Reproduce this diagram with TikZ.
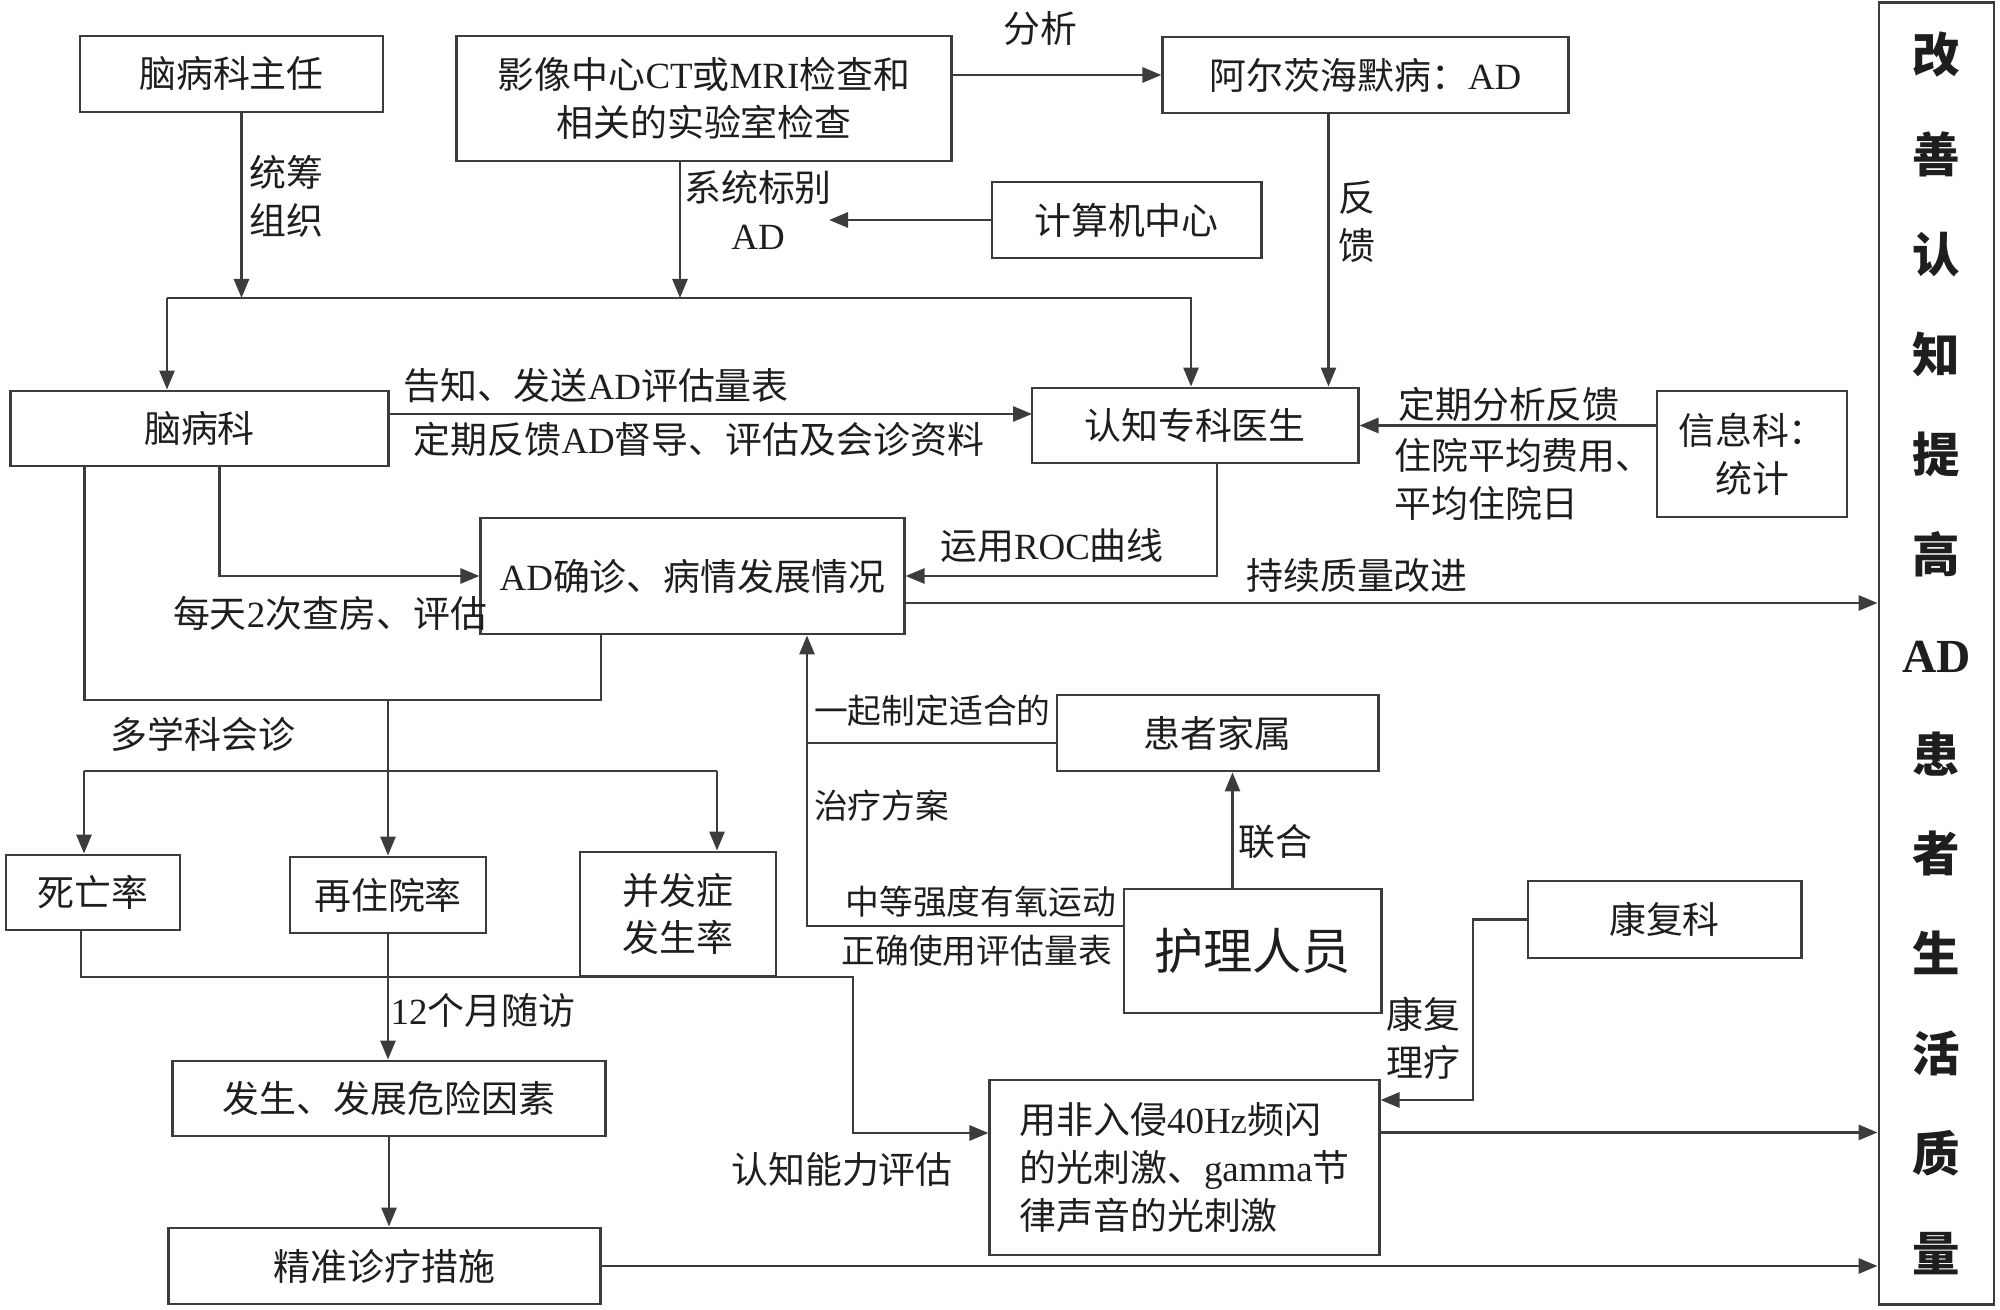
\documentclass[tikz,border=0pt]{standalone}
\usepackage{fontspec}
\setmainfont{Liberation Serif}
\newfontfamily\cjk{Noto Sans CJK SC}
\usepackage{tikz}
\usetikzlibrary{positioning,arrows.meta,calc}
\definecolor{lineGray}{RGB}{60,60,60}
\definecolor{textGray}{RGB}{30,30,30}
\newcommand{\en}[1]{{\rmfamily #1}}

\begin{document}
\begin{tikzpicture}[x=0.01cm, y=-0.01cm, >={Triangle[length=0.19cm,width=0.15cm]},
  box/.style={draw=lineGray, line width=0.8pt, inner sep=1pt, align=center, text=textGray, font=\cjk\fontsize{10.5}{13.6}\selectfont},
  lbl/.style={inner sep=1pt, align=center, text=textGray, font=\cjk\fontsize{10.5}{13.6}\selectfont},
  link/.style={draw=lineGray, line width=0.8pt}]

\useasboundingbox (0,0) rectangle (2000,1310);

% Top row
\node[box, minimum width=3.03cm, minimum height=0.76cm] (director) at (231.5,74) {脑病科主任};
\node[box, minimum width=4.94cm, minimum height=1.25cm] (imaging) at (704,98.5) {影像中心\en{CT}或\en{MRI}检查和\\相关的实验室检查};
\node[box, minimum width=4.05cm, minimum height=0.76cm] (alz) at (1365.5,75) {阿尔茨海默病：\en{AD}};
\node[box, minimum width=2.69cm, minimum height=0.76cm] (computer) at (1126.5,220) {计算机中心};

% Departments and doctors
\node[box, minimum width=3.77cm, minimum height=0.75cm] (neuro) at (199.5,428.5) {脑病科};
\node[box, minimum width=3.26cm, minimum height=0.75cm] (cogdoc) at (1195,425.5) {认知专科医生};
\node[box, minimum width=1.90cm, minimum height=1.26cm] (info) at (1752,454) {信息科：\\统计};
\node[box, minimum width=4.23cm, minimum height=1.16cm] (diag) at (692.5,576) {\en{AD}确诊、病情发展情况};

% Outcomes
\node[box, minimum width=1.74cm, minimum height=0.75cm] (dead) at (93,892.5) {死亡率};
\node[box, minimum width=1.96cm, minimum height=0.76cm] (readmit) at (388,895) {再住院率};
\node[box, minimum width=1.96cm, minimum height=1.24cm] (compl) at (678,914) {并发症\\发生率};
\node[box, minimum width=4.32cm, minimum height=0.75cm] (risk) at (389,1098.5) {发生、发展危险因素};
\node[box, minimum width=4.31cm, minimum height=0.76cm] (precise) at (384.5,1266) {精准诊疗措施};

% Care team
\node[box, minimum width=3.21cm, minimum height=0.76cm] (family) at (1217.5,733) {患者家属};
\node[box, minimum width=2.57cm, minimum height=1.24cm, font=\cjk\fontsize{14}{17}\selectfont] (nurse) at (1252.5,951) {护理人员};
\node[box, minimum width=2.73cm, minimum height=0.77cm] (rehab) at (1664.5,919.5) {康复科};
\node[box, minimum width=3.89cm, minimum height=1.75cm, align=left] (light) at (1184.5,1167.5) {用非入侵\en{40Hz}频闪\\的光刺激、\en{gamma}节\\律声音的光刺激};

% Goal column
\node[box, minimum width=1.15cm, minimum height=13.01cm, font=\cjk\bfseries\fontsize{13.5}{28.4}\selectfont] (goal) at (1936.5,653.5) {改\\善\\认\\知\\提\\高\\\en{AD}\\患\\者\\生\\活\\质\\量};

% Labels
\node[lbl] (tAnalyse) at (1040,29) {分析};
\node[lbl, anchor=west] (tOrganise) at (245,196) {统筹\\组织};
\node[lbl] (tIdentify) at (758,210) {系统标别\\\en{AD}};
\node[lbl] (tInform) at (596,386) {告知、发送\en{AD}评估量表};
\node[lbl] (tReport) at (699,439) {定期反馈\en{AD}督导、评估及会诊资料};
\node[lbl] (tFeedback) at (1357,222) {反\\馈};
\node[lbl] (tAnalyseInfo) at (1509,404) {定期分析反馈};
\node[lbl, anchor=west, align=left] (tCost) at (1390,479) {住院平均费用、\\平均住院日};
\node[lbl] (tRoc) at (1052,546) {运用\en{ROC}曲线};
\node[lbl] (tImprove) at (1357,576) {持续质量改进};
\node[lbl] (tRounds) at (330,613) {每天\en{2}次查房、评估};
\node[lbl] (tMdt) at (203,734) {多学科会诊};
\node[lbl] (tFollow) at (483,1010) {\en{12}个月随访};
\node[lbl, anchor=west, font=\cjk\fontsize{9.6}{12}\selectfont] (tTogether) at (810,711) {一起制定适合的};
\node[lbl, anchor=west, font=\cjk\fontsize{9.6}{12}\selectfont] (tPlan) at (810,806) {治疗方案};
\node[lbl, anchor=east, font=\cjk\fontsize{9.6}{12}\selectfont] (tExercise) at (1120,902) {中等强度有氧运动};
\node[lbl, anchor=east, font=\cjk\fontsize{9.6}{12}\selectfont] (tScale) at (1116,951) {正确使用评估量表};
\node[lbl] (tUnite) at (1275,842) {联合};
\node[lbl] (tPhysio) at (1423,1038) {康复\\理疗};
\node[lbl] (tCognitive) at (842,1170) {认知能力评估};

% Junctions
\coordinate (railL) at (167,298);
\coordinate (railR) at (1191,298);
\coordinate (sysAD) at (829,220);
\coordinate (inform) at (1032,414);
\coordinate (mdtR) at (601,700);
\coordinate (outL) at (84,771);
\coordinate (outR) at (717,771);
\coordinate (evalTurn) at (853,977);
\coordinate (evalIn) at (853,1133);
\coordinate (plan) at (807,743);
\coordinate (physio) at (1473,1100);
\coordinate (orgDown) at ([xshift=0.1cm]director.south);
\coordinate (sysDown) at ([xshift=-0.24cm]imaging.south);
\coordinate (fb) at ([xshift=-0.37cm]alz.south);
\coordinate (cqi) at ([yshift=-0.27cm]diag.east);
\coordinate (lightOut) at ([yshift=0.35cm]light.east);
\coordinate (unite) at ([xshift=-0.2cm]nurse.north);

% Top connectors
\draw[link,->] (imaging.east |- alz.west) -- (alz.west);
\draw[link,->] (orgDown) -- (orgDown |- railL);
\draw[link,->] (sysDown) -- (sysDown |- railL);
\draw[link,->] (computer.west) -- (sysAD);
\draw[link,->] (railL) -- (railL |- neuro.north);
\draw[link,->] (railL) -- (railR) -- (railR |- cogdoc.north);
\draw[link,->] (fb) -- (fb |- cogdoc.north);

% Middle connectors
\draw[link,->] (neuro.east |- inform) -- (inform);
\draw[link,->] (info.west |- cogdoc.east) -- (cogdoc.east);
\draw[link,->] ([xshift=0.2cm]neuro.south) |- (diag.west);
\draw[link,->] ([xshift=0.22cm]cogdoc.south) |- (diag.east);
\draw[link] ([xshift=-1.15cm]neuro.south) |- (mdtR) -- (mdtR |- diag.south);
\draw[link,->] (readmit.north |- mdtR) -- (readmit.north);
\draw[link,->] (outL) -- (outL |- dead.north);
\draw[link] (outL) -- (outR);
\draw[link,->] (outR) -- (outR |- compl.north);

% Lower connectors
\draw[link,->] ([xshift=-0.12cm]dead.south) |- (evalTurn) -- (evalIn) -- (evalIn -| light.west);
\draw[link,->] (readmit.south) -- (readmit.south |- risk.north);
\draw[link,->] (risk.south) -- (risk.south |- precise.north);
\draw[link,->] ([yshift=0.25cm]nurse.west) -| (plan) -- (plan |- diag.south);
\draw[link] (family.west |- plan) -- (plan);
\draw[link,->] (unite) -- (unite |- family.south);
\draw[link,->] (rehab.west) -| (physio) -- (physio -| light.east);

% Into the goal column
\draw[link,->] (cqi) -- (cqi -| goal.west);
\draw[link,->] (lightOut) -- (lightOut -| goal.west);
\draw[link,->] (precise.east) -- (precise.east -| goal.west);

\end{tikzpicture}
\end{document}
